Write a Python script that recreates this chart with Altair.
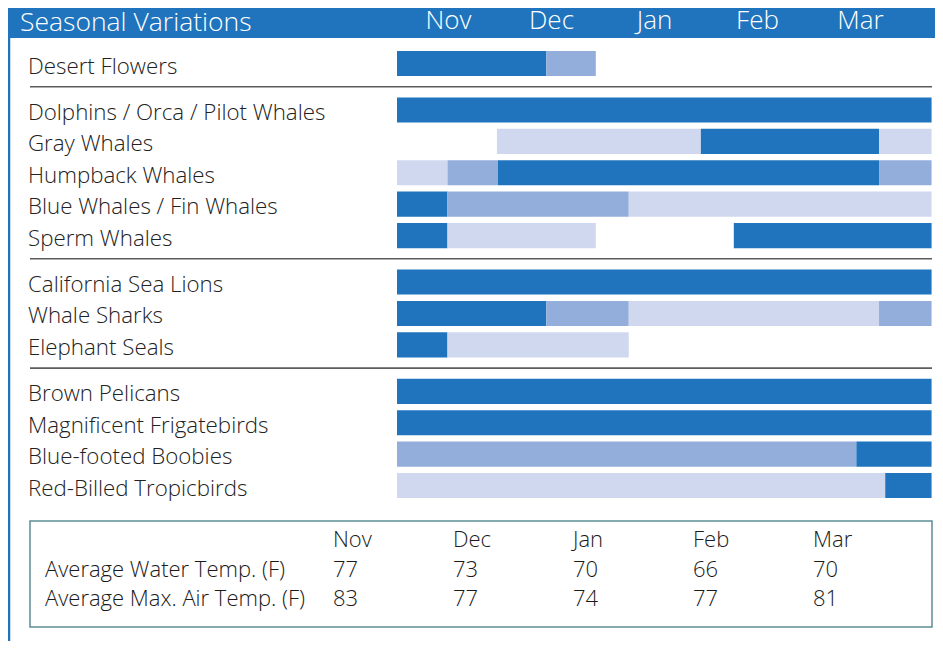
import altair as alt
import pandas as pd

FONT = "Open Sans"
DARK, MED, LIGHT = "#1F74BD", "#93AEDB", "#D0D8F0"

months = ["Nov", "Dec", "Jan", "Feb", "Mar"]

groups = [
    ["Desert Flowers"],
    ["Dolphins / Orca / Pilot Whales", "Gray Whales", "Humpback Whales",
     "Blue Whales / Fin Whales", "Sperm Whales"],
    ["California Sea Lions", "Whale Sharks", "Elephant Seals"],
    ["Brown Pelicans", "Magnificent Frigatebirds", "Blue-footed Boobies",
     "Red-Billed Tropicbirds"],
]

# segments (months since Nov 1)
seg_species = [
    "Desert Flowers", "Desert Flowers",
    "Dolphins / Orca / Pilot Whales",
    "Gray Whales", "Gray Whales", "Gray Whales",
    "Humpback Whales", "Humpback Whales", "Humpback Whales", "Humpback Whales",
    "Blue Whales / Fin Whales", "Blue Whales / Fin Whales", "Blue Whales / Fin Whales",
    "Sperm Whales", "Sperm Whales", "Sperm Whales",
    "California Sea Lions",
    "Whale Sharks", "Whale Sharks", "Whale Sharks", "Whale Sharks",
    "Elephant Seals", "Elephant Seals",
    "Brown Pelicans",
    "Magnificent Frigatebirds",
    "Blue-footed Boobies", "Blue-footed Boobies",
    "Red-Billed Tropicbirds", "Red-Billed Tropicbirds",
]
seg_start = [0, 1.45, 0, 0.97, 2.95, 4.68, 0, 0.49, 0.98, 4.68, 0, 0.49, 2.25,
             0, 0.49, 3.27, 0, 0, 1.45, 2.25, 4.68, 0, 0.49, 0, 0, 0, 4.46, 0, 4.74]
seg_end = [1.45, 1.93, 5.19, 2.95, 4.68, 5.19, 0.49, 0.98, 4.68, 5.19, 0.49, 2.25, 5.19,
           0.49, 1.93, 5.19, 5.19, 1.45, 2.25, 4.68, 5.19, 0.49, 2.25, 5.19, 5.19, 4.46, 5.19,
           4.74, 5.19]
seg_level = ["High", "Medium", "High", "Low", "High", "Low", "Low", "Medium", "High", "Medium",
             "High", "Medium", "Low", "High", "Low", "High", "High", "High", "Medium", "Low",
             "Medium", "High", "Low", "High", "High", "Medium", "High", "Low", "High"]

water_temp = [77, 73, 70, 66, 70]
air_temp = [83, 77, 74, 77, 81]
table_rows = ["Average Water Temp. (F)", "Average Max. Air Temp. (F)"]

# ---- layout: row slots with extra gap between groups
GAP = 0.48
slot = {}
seps = []
s = 0.0
for gi, g in enumerate(groups):
    if gi > 0:
        prev = s - 1
        s += GAP
        seps.append((prev + s) / 2)
    for name in g:
        slot[name] = s
        s += 1
last_slot = s - 1

W, H = 927, 633
xs = alt.Scale(domain=[0, 5], range=[389, 904], clamp=False, nice=False, zero=False)
ys = alt.Scale(domain=[0, last_slot], range=[55.5, 55.5 + last_slot * 31.4], nice=False, zero=False)

seg = pd.DataFrame({"species": seg_species, "start": seg_start, "end": seg_end, "level": seg_level})
seg["slot"] = seg["species"].map(slot)
seg["y0"] = seg["slot"] - 0.4
seg["y1"] = seg["slot"] + 0.4

lab = pd.DataFrame({"species": list(slot.keys()), "slot": list(slot.values())})
sep = pd.DataFrame({"pos": seps})
mon = pd.DataFrame({"month": months, "c": [i + 0.5 for i in range(len(months))]})

bars = alt.Chart(seg).mark_rect().encode(
    x=alt.X("start:Q", scale=xs, axis=None),
    x2="end:Q",
    y=alt.Y("y0:Q", scale=ys, axis=None),
    y2="y1:Q",
    color=alt.Color("level:N", scale=alt.Scale(domain=["High", "Medium", "Low"],
                                                range=[DARK, MED, LIGHT]), legend=None),
)

labels = alt.Chart(lab).mark_text(align="left", baseline="middle", font=FONT, fontWeight=300,
                                  fontSize=22.3, dy=3, color="#222222").encode(
    x=alt.value(20),
    y=alt.Y("slot:Q", scale=ys, axis=None),
    text="species:N",
)

seplines = alt.Chart(sep).mark_rule(color="#5c5c5c", strokeWidth=1.6).encode(
    x=alt.value(22), x2=alt.value(924),
    y=alt.Y("pos:Q", scale=ys, axis=None),
)

header = alt.Chart(pd.DataFrame({"a": [0]})).mark_rect(color=DARK).encode(
    x=alt.value(0), x2=alt.value(W), y=alt.value(0), y2=alt.value(30))

leftline = alt.Chart(pd.DataFrame({"a": [0]})).mark_rule(color=DARK, strokeWidth=2.5).encode(
    x=alt.value(1), y=alt.value(0), y2=alt.value(H))

title = alt.Chart(pd.DataFrame({"t": ["Seasonal Variations"]})).mark_text(
    align="left", baseline="alphabetic", font=FONT, fontWeight=300, fontSize=26.5,
    color="white").encode(x=alt.value(12), y=alt.value(23), text="t:N")

monlab = alt.Chart(mon).mark_text(align="center", baseline="alphabetic", font=FONT,
                                  fontWeight=300, fontSize=26, color="white").encode(
    x=alt.X("c:Q", scale=xs, axis=None), y=alt.value(21), text="month:N")

# ---- table
cells = []
for i, m in enumerate(months):
    cells.append({"col": i, "row": 0, "txt": m})
    cells.append({"col": i, "row": 1, "txt": str(water_temp[i])})
    cells.append({"col": i, "row": 2, "txt": str(air_temp[i])})
cells = pd.DataFrame(cells)
rowlab = pd.DataFrame({"row": [1, 2], "txt": table_rows})
txs = alt.Scale(domain=[0, 4], range=[325, 805], nice=False, zero=False)
tys = alt.Scale(domain=[0, 2], range=[531, 590], nice=False, zero=False)

box = alt.Chart(pd.DataFrame({"a": [0]})).mark_rect(
    fill=None, stroke="#5f8d96", strokeWidth=1.5).encode(
    x=alt.value(22), x2=alt.value(924), y=alt.value(513), y2=alt.value(619))

tcells = alt.Chart(cells).mark_text(align="left", baseline="middle", font=FONT, fontWeight=300,
                                    fontSize=22, dy=1, color="#1a1a1a").encode(
    x=alt.X("col:Q", scale=txs, axis=None),
    y=alt.Y("row:Q", scale=tys, axis=None),
    text="txt:N")

trows = alt.Chart(rowlab).mark_text(align="left", baseline="middle", font=FONT, fontWeight=300,
                                    fontSize=22, dy=1, color="#1a1a1a").encode(
    x=alt.value(37),
    y=alt.Y("row:Q", scale=tys, axis=None),
    text="txt:N")

chart = alt.layer(
    header, leftline, title, monlab, bars, labels, seplines, box, tcells, trows
).resolve_scale(x="independent", y="independent", color="independent").properties(
    width=W, height=H, padding=0,
    autosize=alt.AutoSizeParams(type="none"),
).configure_view(stroke=None)

chart.save("out.html", embed_options={"renderer": "svg", "actions": False})
